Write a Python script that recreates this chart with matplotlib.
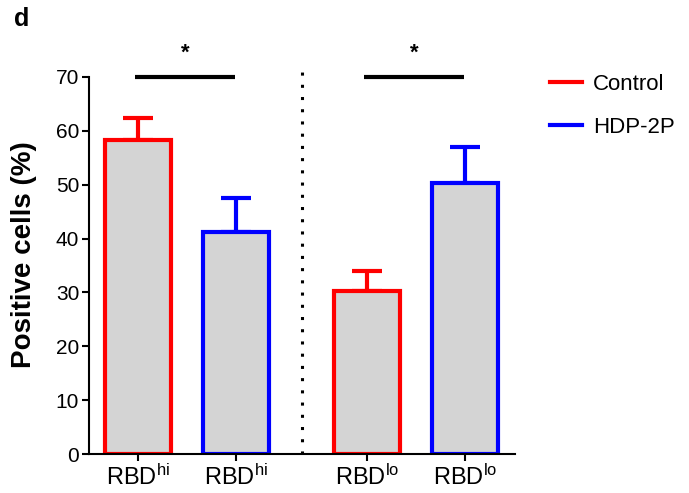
import matplotlib
matplotlib.use("Agg")
from matplotlib import pyplot as plt
from matplotlib.lines import Line2D

plt.rcParams['font.family'] = ['Liberation Sans', 'DejaVu Sans']
plt.rcParams['mathtext.default'] = 'regular'

# data
labels = ["RBD$^{hi}$", "RBD$^{hi}$", "RBD$^{lo}$", "RBD$^{lo}$"]
groups = ["Control", "HDP-2P", "Control", "HDP-2P"]
means = [58.2, 41.2, 30.2, 50.3]
errs = [4.1, 6.4, 3.8, 6.7]
positions = [0, 1, 2.34, 3.34]
colors = {"Control": "#ff0000", "HDP-2P": "#0000ff"}

fig = plt.figure(figsize=(6.89, 4.93), dpi=100)
ax = fig.add_axes([0.129, 0.079, 0.618, 0.765])

for p, m, e, g in zip(positions, means, errs, groups):
    c = colors[g]
    ax.bar(p, m, width=0.67, color="#d4d4d4", edgecolor=c, linewidth=3, zorder=2)
    ax.errorbar(p, m, yerr=[[0], [e]], fmt="none", ecolor=c, elinewidth=3,
                capsize=11, capthick=3, zorder=1)

ax.set_xlim(-0.5, 3.85)
ax.set_ylim(0, 70)
ax.set_yticks(range(0, 71, 10))
ax.set_xticks(positions)
ax.set_xticklabels(labels, fontsize=17)
ax.tick_params(axis='y', labelsize=15, width=1.5, length=5, pad=2)
ax.tick_params(axis='x', width=1.5, length=5, pad=3)
for s in ["top", "right"]:
    ax.spines[s].set_visible(False)
for s in ["left", "bottom"]:
    ax.spines[s].set_linewidth(1.5)

ax.set_ylabel("Positive cells (%)", fontsize=20, fontweight="bold")
ax.yaxis.set_label_coords(-0.122, 0.53)

# dotted separator
ax.plot([1.68, 1.68], [0, 71], color="black", linestyle=(0, (1, 3.0)),
        linewidth=2.2, clip_on=False, zorder=3)

# significance bars
for x0, x1 in [(-0.03, 0.99), (2.31, 3.33)]:
    ax.plot([x0, x1], [70, 70], color="black", linewidth=3, clip_on=False,
            solid_capstyle="butt")
    ax.text((x0 + x1) / 2, 72.5, "*", ha="center", va="bottom", fontsize=16,
            fontweight="bold")

fig.text(0.021, 0.985, "d", fontsize=18, fontweight="bold", va="top")

handles = [Line2D([], [], color=colors["Control"], linewidth=3),
           Line2D([], [], color=colors["HDP-2P"], linewidth=3)]
fig.legend(handles, ["Control", "HDP-2P"], loc="upper left",
           bbox_to_anchor=(0.798, 0.850), frameon=False, fontsize=16,
           handlelength=1.45, handletextpad=0.5, labelspacing=0.98,
           borderpad=0, borderaxespad=0)

fig.savefig("out.png", dpi=100)
